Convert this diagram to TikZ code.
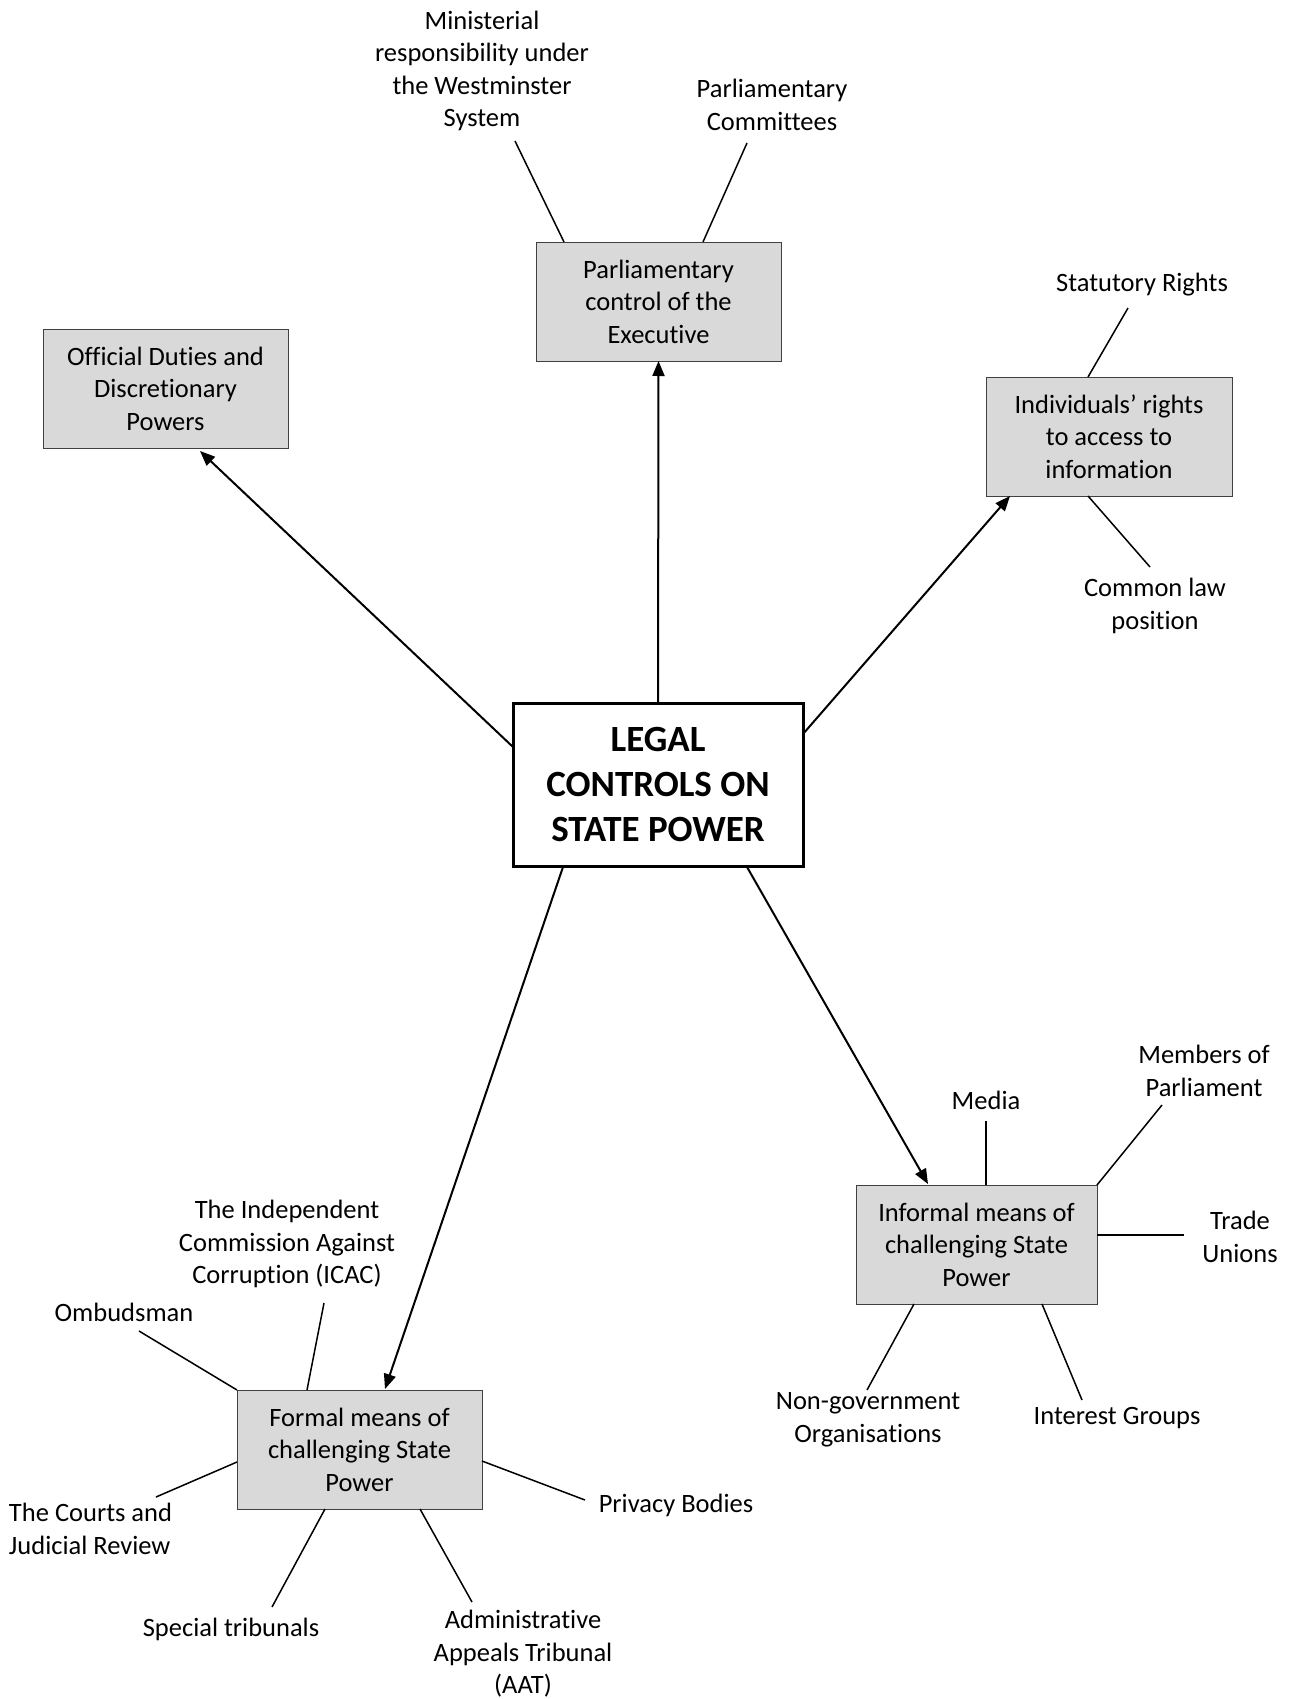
\documentclass[tikz,border=0pt]{standalone}
\usepackage{fontspec}
\setmainfont{Carlito}[Ligatures={NoCommon,NoRare,NoContextual}]
\usetikzlibrary{arrows.meta}
\begin{document}
\begin{tikzpicture}[x=1pt,y=-1pt,
  every node/.style={inner sep=0pt,outer sep=0pt},
  box/.style={draw=black!75,line width=1pt,fill=black!15,align=center,
    font=\fontsize{26.5}{32.5}\selectfont},
  mainbox/.style={draw=black,line width=3pt,fill=white,align=center,
    font=\fontsize{37}{45}\selectfont\bfseries},
  lbl/.style={align=center,font=\fontsize{26.5}{32.5}\selectfont},
  leaf/.style={line width=1.5pt},
  arr/.style={line width=2pt,-{Triangle[length=15pt,width=12pt]}}]
\useasboundingbox (0,0) rectangle (1289,1699);
% boxes
\node[mainbox,minimum width=290pt,minimum height=163pt] (main) at (658,784.5) {LEGAL\\CONTROLS ON\\STATE POWER};
\node[box,minimum width=245pt,minimum height=119pt] (parl) at (658.5,301.5) {Parliamentary\\control of the\\Executive};
\node[box,minimum width=245pt,minimum height=119pt] (offic) at (165.5,388.5) {Official Duties and\\Discretionary\\Powers};
\node[box,minimum width=246pt,minimum height=119pt] (indiv) at (1109,436.5) {Individuals’ rights\\to access to\\information};
\node[box,minimum width=245pt,minimum height=119pt] (formal) at (359.5,1449.5) {Formal means of\\challenging State\\Power};
\node[box,minimum width=241pt,minimum height=119pt] (inform) at (976.5,1244.5) {Informal means of\\challenging State\\Power};
% arrows
\coordinate (m1) at (513,747); \coordinate (t1) at (200,451);
\coordinate (m3) at (803,734); \coordinate (t3) at (1010,496);
\coordinate (m4) at (563,867); \coordinate (t4) at (385,1389);
\coordinate (m5) at (747,867); \coordinate (t5) at (928,1184);
\draw[arr] (m1) -- (t1);
\draw[arr] (main.north) -- (parl.south);
\draw[arr] (m3) -- (t3);
\draw[arr] (m4) -- (t4);
\draw[arr] (m5) -- (t5);
% labels: parliamentary
\node[lbl] (minis) at (482,71) {Ministerial\\responsibility under\\the Westminster\\System};
\node[lbl] (pcomm) at (772,105) {Parliamentary\\Committees};
\coordinate (a1) at (515,141); \coordinate (b1) at (564,242);
\coordinate (a2) at (747,143); \coordinate (b2) at (703,242);
\draw[leaf] (a1) -- (b1);
\draw[leaf] (a2) -- (b2);
% individuals
\node[lbl] (stat) at (1142,285) {Statutory Rights};
\node[lbl] (comm) at (1155,606) {Common law\\position};
\coordinate (a3) at (1128,308); \coordinate (b3) at (1088,377);
\coordinate (a4) at (1088,496); \coordinate (b4) at (1150,567);
\draw[leaf] (a3) -- (b3);
\draw[leaf] (a4) -- (b4);
% informal
\node[lbl] (media) at (986,1100) {Media};
\node[lbl] (mps) at (1204,1071) {Members of\\Parliament};
\node[lbl] (trade) at (1240,1237) {Trade\\Unions};
\node[lbl] (inter) at (1117,1418) {Interest Groups};
\node[lbl] (ngo) at (868,1420) {Non-government\\Organisations};
\coordinate (a5) at (986,1121); \coordinate (b5) at (986,1185);
\coordinate (a6) at (1162,1105); \coordinate (b6) at (1097,1185);
\coordinate (a7) at (1097,1235); \coordinate (b7) at (1184,1235);
\coordinate (a8) at (1042,1304); \coordinate (b8) at (1082,1400);
\coordinate (a9) at (914,1304); \coordinate (b9) at (867,1390);
\draw[leaf] (a5) -- (b5);
\draw[leaf] (a6) -- (b6);
\draw[leaf] (a7) -- (b7);
\draw[leaf] (a8) -- (b8);
\draw[leaf] (a9) -- (b9);
% formal
\node[lbl] (ombud) at (124,1312) {Ombudsman};
\node[lbl] (icac) at (287,1244) {The Independent\\Commission Against\\Corruption (ICAC)};
\node[lbl,align=left,anchor=west] (courts) at (9,1529) {The Courts and\\Judicial Review};
\node[lbl] (spec) at (231,1629) {Special tribunals};
\node[lbl] (aat) at (523,1654) {Administrative\\Appeals Tribunal\\(AAT)};
\node[lbl] (priv) at (676,1505) {Privacy Bodies};
\coordinate (a10) at (139,1331); \coordinate (b10) at (237,1390);
\coordinate (a11) at (324,1303); \coordinate (b11) at (307,1390);
\coordinate (a12) at (156,1497); \coordinate (b12) at (237,1462);
\coordinate (a13) at (272,1607); \coordinate (b13) at (325,1509);
\coordinate (a14) at (420,1509); \coordinate (b14) at (472,1602);
\coordinate (a15) at (482,1461); \coordinate (b15) at (585,1500);
\draw[leaf] (a10) -- (b10);
\draw[leaf] (a11) -- (b11);
\draw[leaf] (a12) -- (b12);
\draw[leaf] (a13) -- (b13);
\draw[leaf] (a14) -- (b14);
\draw[leaf] (a15) -- (b15);
\end{tikzpicture}
\end{document}
